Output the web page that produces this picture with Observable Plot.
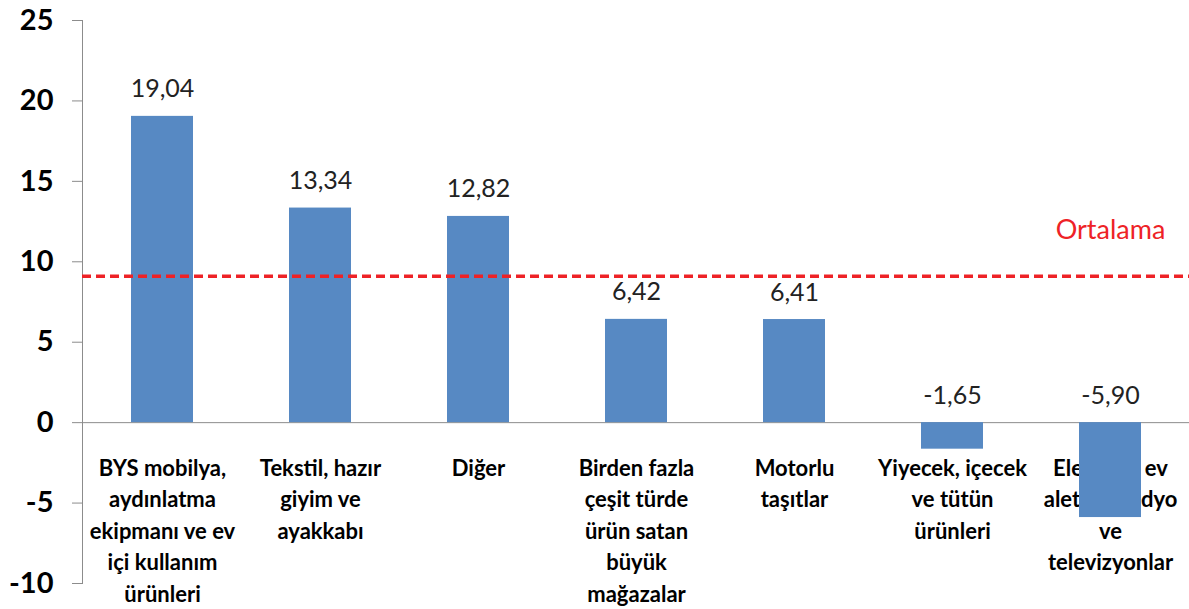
<!DOCTYPE html>
<html>
<head>
<meta charset="utf-8">
<script src="https://cdn.jsdelivr.net/npm/d3@7"></script>
<script src="https://cdn.jsdelivr.net/npm/@observablehq/plot@0.6"></script>
<style>
  html, body { margin: 0; padding: 0; background: #fff; }
  #chart { width: 1189px; height: 609px; }
</style>
</head>
<body>
<div id="chart"></div>
<script>
const categories = [
  "BYS mobilya,\naydınlatma\nekipmanı ve ev\niçi kullanım\nürünleri",
  "Tekstil, hazır\ngiyim ve\nayakkabı",
  "Diğer",
  "Birden fazla\nçeşit türde\nürün satan\nbüyük\nmağazalar",
  "Motorlu\ntaşıtlar",
  "Yiyecek, içecek\nve tütün\nürünleri",
  "Elektrikli ev\naletleri, radyo\nve\ntelevizyonlar"
];
const values = [19.04, 13.34, 12.82, 6.42, 6.41, -1.65, -5.90];
const average = 9.1;
const averageLabel = "Ortalama";
const yTicks = [-10, -5, 0, 5, 10, 15, 20, 25];

const data = categories.map((c, i) => ({cat: c, value: values[i]}));
const fmt = v => v.toFixed(2).replace(".", ",");
const font = "Lato, 'Open Sans', sans-serif";

const chart = Plot.plot({
  width: 1189,
  height: 609,
  marginLeft: 82,
  marginRight: 0,
  marginTop: 20,
  marginBottom: 26,
  style: {fontFamily: font, background: "#fff", overflow: "visible"},
  x: {domain: categories, paddingInner: 0.61, paddingOuter: 0.305, axis: null},
  y: {domain: [-10, 25], ticks: yTicks, label: null},
  marks: [
    Plot.frame({anchor: "left", stroke: "#8c8c8c"}),
    Plot.axisY({ticks: yTicks, tickSize: 10, tickPadding: 19, stroke: "#8c8c8c", label: null,
      fontSize: 29, fontWeight: "bold", fill: "#000", tickFormat: d => String(d)}),
    Plot.text(data, {x: "cat", y: () => 0, text: "cat", lineAnchor: "top", dy: 31,
      fontSize: 22, fontWeight: "bold", fill: "#000", lineHeight: 1.43}),
    Plot.ruleY([0], {stroke: "#8c8c8c", strokeWidth: 1}),
    Plot.barY(data, {x: "cat", y: "value", fill: "#5789c3"}),
    Plot.text(data, {x: "cat", y: d => Math.max(d.value, 0), text: d => fmt(d.value),
      lineAnchor: "bottom", dy: -19, fontSize: 25, fill: "#222"}),
    Plot.ruleY([average], {stroke: "#ee2226", strokeWidth: 3.5, strokeDasharray: "9,5"}),
    Plot.text([averageLabel], {x: () => categories[categories.length - 1], y: () => average,
      text: d => d, dy: -46, fontSize: 27, fill: "#ee2226"})
  ]
});
document.getElementById("chart").appendChild(chart);
</script>
</body>
</html>
